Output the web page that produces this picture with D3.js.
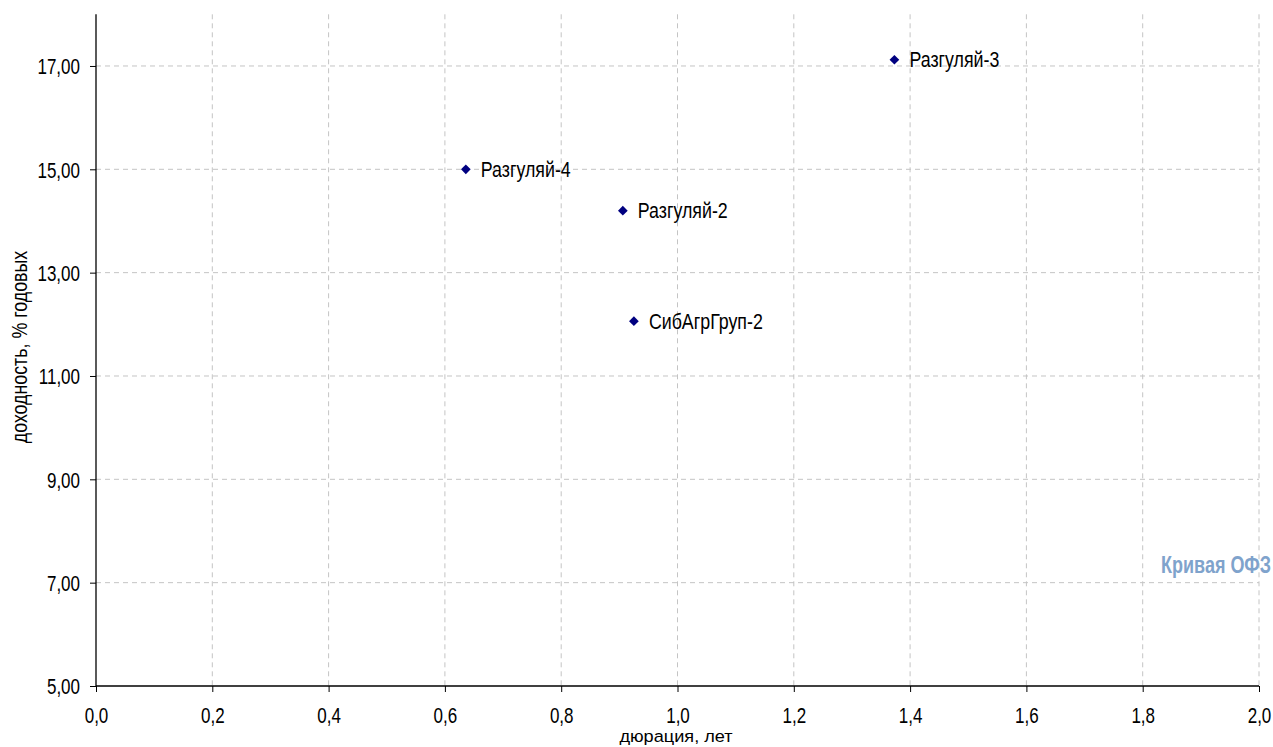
<!DOCTYPE html>
<html><head><meta charset="utf-8">
<script src="https://cdn.jsdelivr.net/npm/d3@7"></script>
<style>body{margin:0;background:#fff}svg{display:block}text{font-family:"Liberation Sans",Arial,sans-serif}</style>
</head><body><svg id="c" width="1273" height="747"></svg>
<script>
const names = ["Разгуляй-3","Разгуляй-4","Разгуляй-2","СибАгрГруп-2"];
const durations = [1.373, 0.636, 0.906, 0.925];
const yields = [17.12, 15.00, 14.20, 12.06];
const xTicks = [0,0.2,0.4,0.6,0.8,1.0,1.2,1.4,1.6,1.8,2.0];
const yTicks = [5,7,9,11,13,15,17];
const curveLabel = "Кривая ОФЗ";
const xTitle = "дюрация, лет";
const yTitle = "доходность, % годовых";

const svg = d3.select("#c");
const m = {l:96, r:1259, t:14.3, b:686};
const x = d3.scaleLinear().domain([0,2]).range([m.l, m.r]);
const y = d3.scaleLinear().domain([5,18]).range([m.b, m.t]);
const fmtX = d => d.toFixed(1).replace(".", ",");
const fmtY = d => d.toFixed(2).replace(".", ",");
const SY = 1.28;

// grid
svg.append("g").selectAll("line").data(yTicks.slice(1)).join("line")
  .attr("x1", m.l).attr("x2", m.r).attr("y1", d=>y(d)).attr("y2", d=>y(d))
  .attr("stroke","#c4c4c4").attr("stroke-dasharray","5,4");
svg.append("g").selectAll("line").data(xTicks.slice(1)).join("line")
  .attr("x1", d=>x(d)).attr("x2", d=>x(d)).attr("y1", m.t).attr("y2", m.b)
  .attr("stroke","#c4c4c4").attr("stroke-dasharray","5,4");

// axes
const xa = svg.append("g").attr("transform",`translate(0,${m.b})`)
  .call(d3.axisBottom(x).tickValues(xTicks).tickFormat(fmtX).tickSize(6));
const ya = svg.append("g").attr("transform",`translate(${m.l},0)`)
  .call(d3.axisLeft(y).tickValues(yTicks).tickFormat(fmtY).tickSize(6));
[xa, ya].forEach(a => {
  a.attr("font-family", null);
  a.select(".domain").attr("stroke","#000").attr("stroke-width",1.3);
  a.selectAll(".tick line").attr("stroke","#000");
  a.selectAll("text").attr("font-size",17).attr("fill","#000")
    .attr("font-family","'Liberation Sans',Arial,sans-serif")
    .attr("x",0).attr("y",0).attr("dy",null);
});
xa.selectAll(".tick text").attr("text-anchor","middle").attr("transform",`translate(0,36.5) scale(1,${SY})`);
ya.selectAll(".tick text").attr("text-anchor","end").attr("transform",`translate(-16,7.7) scale(1,${SY})`);
ya.select(".domain").attr("d", `M0,${m.t}V${m.b}`);
xa.select(".domain").attr("d", `M${m.l},0H${m.r}`);

// points
const pts = names.map((n,i)=>({n, dx:durations[i], y:yields[i]}));
svg.append("g").selectAll("path").data(pts).join("path")
  .attr("d", d3.symbol(d3.symbolDiamond2, 60)())
  .attr("transform", d=>`translate(${x(d.dx)},${y(d.y)})`)
  .attr("fill","#000080");
svg.append("g").selectAll("text").data(pts).join("text")
  .attr("transform", d=>`translate(${x(d.dx)+15},${y(d.y)+7.5}) scale(1,1.2)`)
  .attr("font-size",17.8).attr("fill","#000").text(d=>d.n);

// titles
svg.append("text").attr("transform",`translate(676,742) scale(1.1,1)`).attr("text-anchor","middle")
  .attr("font-size",16.5).text(xTitle);
svg.append("text").attr("transform",`translate(27,347) rotate(-90) scale(1,1.2)`).attr("text-anchor","middle")
  .attr("font-size",17.8).text(yTitle);
svg.append("text").attr("transform",`translate(1271,573) scale(1,1.3)`).attr("text-anchor","end")
  .attr("font-size",18).attr("font-weight","bold").attr("fill","#7fa3cc").text(curveLabel);
</script></body></html>
